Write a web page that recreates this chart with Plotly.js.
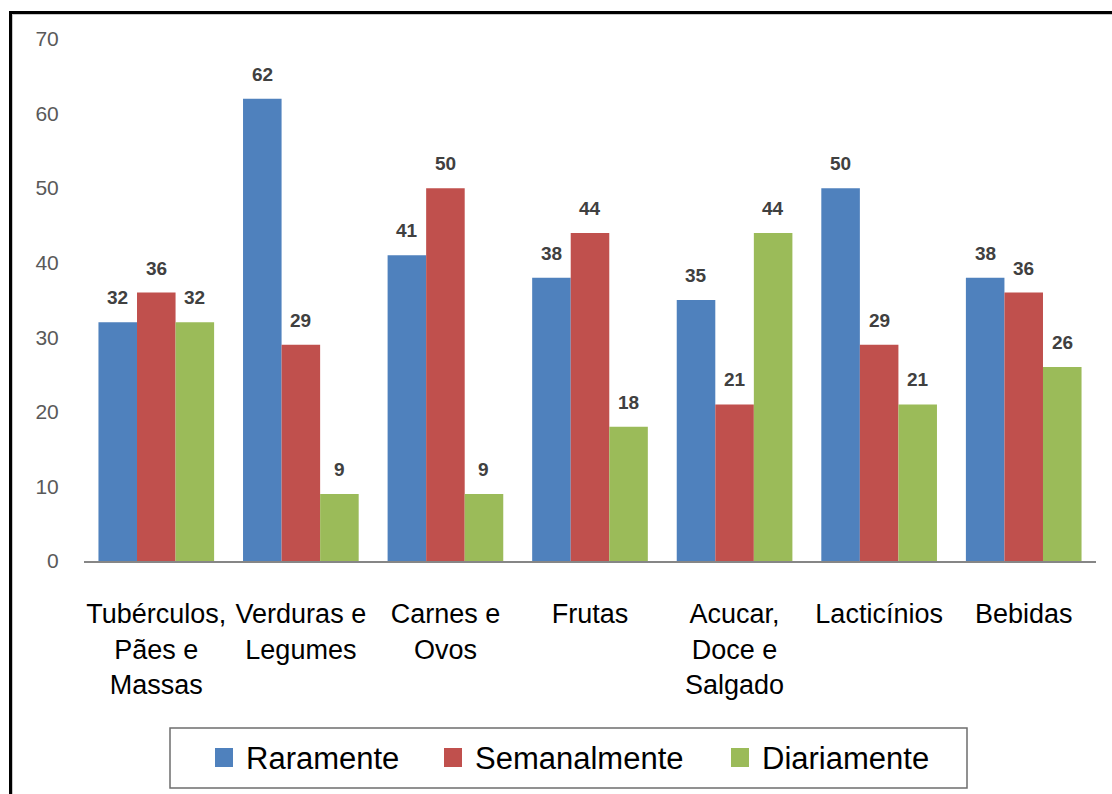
<!DOCTYPE html>
<html>
<head>
<meta charset="utf-8">
<script src="https://cdn.plot.ly/plotly-3.0.1.min.js"></script>
<style>
  html, body { margin: 0; padding: 0; background: #ffffff; overflow: hidden; }
  #wrap { position: relative; width: 1112px; height: 794px; }
  #chart { position: absolute; left: 0; top: 0; width: 1112px; height: 794px; }
  #frame { position: absolute; left: 9px; top: 11px; width: 1200px; height: 900px;
           border-left: 3px solid #000; border-top: 3px solid #000;
           box-shadow: inset 1px 1px 0 #c8c8c8; pointer-events: none; }
</style>
</head>
<body>
<div id="wrap">
  <div id="chart"></div>
  <div id="frame"></div>
</div>
<script>
const categories = [
  "Tubérculos,<br>Pães e<br>Massas",
  "Verduras e<br>Legumes",
  "Carnes e<br>Ovos",
  "Frutas",
  "Acucar,<br>Doce e<br>Salgado",
  "Lacticínios",
  "Bebidas"
];
const seriesNames = ["Raramente", "Semanalmente", "Diariamente"];
const raramente    = [32, 62, 41, 38, 35, 50, 38];
const semanalmente = [36, 29, 50, 44, 21, 29, 36];
const diariamente  = [32,  9,  9, 18, 44, 21, 26];
const yTicks = [0, 10, 20, 30, 40, 50, 60, 70];

const colors = ["#4F81BD", "#C0504D", "#9BBB59"];
const seriesValues = [raramente, semanalmente, diariamente];
const FONT = "'Liberation Sans', Arial, sans-serif";

const traces = seriesValues.map((vals, i) => ({
  type: "bar",
  name: seriesNames[i],
  x: categories,
  y: vals,
  marker: { color: colors[i], line: { width: 0 } },
  hoverinfo: "x+y+name",
  showlegend: false
}));

const W = 1112, H = 794;
const margin = { l: 84, r: 16, t: 39, b: 233 };
const plotW = W - margin.l - margin.r;
const plotH = H - margin.t - margin.b;
const bargap = 0.2;
const barPx = plotW / categories.length * (1 - bargap) / seriesValues.length;

// pixel -> paper helpers (layout only)
const px = v => (v - margin.l) / plotW;
const py = v => (H - margin.b - v) / plotH;

const annotations = [];
const shapes = [];

// data labels above bars
seriesValues.forEach((vals, i) => {
  vals.forEach((v, j) => {
    annotations.push({
      x: categories[j], y: v, xref: "x", yref: "y",
      text: "<b>" + v + "</b>",
      showarrow: false,
      xanchor: "center", yanchor: "bottom",
      xshift: (i - 1) * barPx,
      yshift: 12,
      font: { family: FONT, size: 19, color: "#404040" }
    });
  });
});

// custom legend (box, swatches, labels)
shapes.push({
  type: "rect", xref: "paper", yref: "paper",
  x0: px(170), x1: px(967), y0: py(788), y1: py(728),
  line: { color: "#6e6e6e", width: 1.5 }, fillcolor: "#ffffff", layer: "above"
});
const swatchX = [215, 444, 731];
seriesNames.forEach((name, i) => {
  shapes.push({
    type: "rect", xref: "paper", yref: "paper",
    x0: px(swatchX[i]), x1: px(swatchX[i] + 18),
    y0: py(767), y1: py(748),
    line: { width: 0 }, fillcolor: colors[i], layer: "above"
  });
  annotations.push({
    xref: "paper", yref: "paper",
    x: px(swatchX[i] + 29), y: py(758),
    xanchor: "left", yanchor: "middle",
    text: name, showarrow: false,
    font: { family: FONT, size: 31, color: "#000000" }
  });
});

const layout = {
  width: W, height: H,
  margin: margin,
  paper_bgcolor: "#ffffff",
  plot_bgcolor: "#ffffff",
  barmode: "group",
  bargap: bargap,
  bargroupgap: 0,
  showlegend: false,
  xaxis: {
    type: "category",
    showline: true, linecolor: "#868686", linewidth: 2,
    showgrid: false, zeroline: false,
    ticks: "outside", ticklen: 28, tickcolor: "rgba(0,0,0,0)",
    tickfont: { family: FONT, size: 27, color: "#000000" },
    tickangle: 0,
    fixedrange: true
  },
  yaxis: {
    range: [0, 70],
    tickvals: yTicks,
    ticktext: yTicks.map(String),
    showline: false, showgrid: false, zeroline: false,
    ticks: "outside", ticklen: 20, tickcolor: "rgba(0,0,0,0)",
    tickfont: { family: FONT, size: 21, color: "#595959" },
    fixedrange: true
  },
  shapes: shapes,
  annotations: annotations
};

Plotly.newPlot("chart", traces, layout, { displayModeBar: false, staticPlot: true });
</script>
</body>
</html>
